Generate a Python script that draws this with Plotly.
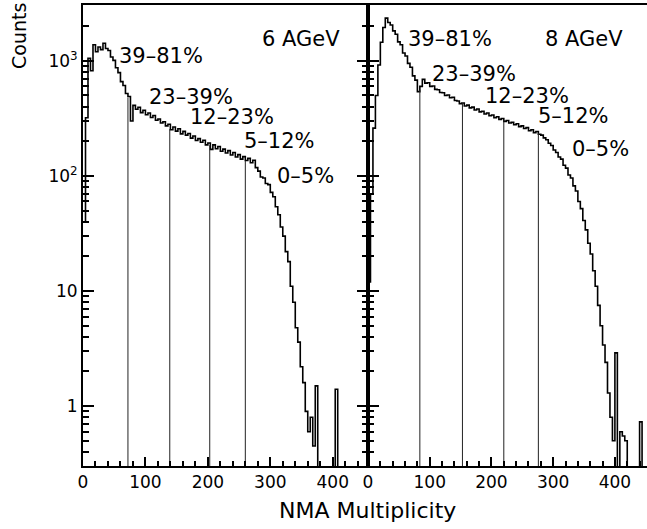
import plotly.graph_objects as go

BIN = 4
# 6 AGeV NMA multiplicity histogram (bin width 4, from 0)
counts_6 = [40, 320, 1050, 820, 1380, 1200, 1320, 1250, 1420, 1280,
            1230, 1080, 1010, 870, 790, 660, 610, 520, 490, 300,
            410, 380, 395, 355, 372, 340, 352, 322, 335, 305,
            312, 288, 296, 272, 281, 252, 266, 245, 257, 232,
            244, 226, 234, 213, 222, 203, 211, 196, 204, 186,
            193, 170, 186, 172, 180, 164, 171, 158, 166, 152,
            160, 146, 153, 140, 147, 136, 142, 130, 137, 118,
            110, 98, 96, 86, 84, 72, 66, 54, 46, 36,
            30, 22, 18, 11, 8, 4.8, 3.6, 2.2, 1.6, 0.9,
            0.6, 0.8, 0.45, 1.5, 0, 0, 0, 0, 0, 0,
            0, 1.4, 0, 0, 0, 0, 0, 0, 0, 0,
            0, 0, 0, 0]
# 8 AGeV NMA multiplicity histogram (bin width 4, from 0)
counts_8 = [12, 70, 260, 500, 920, 1450, 1950, 2350, 2150, 2050,
            1820, 1700, 1460, 1380, 1170, 1100, 950, 880, 740, 680,
            540, 600, 690, 640, 645, 600, 605, 565, 560, 530,
            528, 500, 505, 478, 482, 452, 448, 425, 430, 405,
            412, 390, 396, 374, 381, 360, 365, 345, 352, 333,
            338, 320, 327, 310, 315, 298, 303, 288, 292, 278,
            284, 268, 272, 258, 263, 247, 252, 238, 243, 230,
            226, 214, 206, 192, 184, 168, 160, 146, 140, 124,
            117, 102, 96, 82, 74, 60, 52, 41, 34, 26,
            21, 15, 11, 7.5, 5, 3.4, 2.4, 1.3, 0.8, 0.5,
            2.9, 0, 0.6, 0.55, 0.5, 0, 0, 0, 0, 0,
            0.73, 0, 0, 0]

cuts_6 = [72, 139, 203, 260]
cut_heights_6 = [480, 255, 185, 135]
cuts_8 = [84, 153, 220, 276]
cut_heights_8 = [560, 425, 305, 235]

labels = ["39–81%", "23–39%", "12–23%", "5–12%", "0–5%"]
energies = ["6 AGeV", "8 AGeV"]

FLOOR = 1e-3
FONT = "DejaVu Sans"


def step_xy(counts):
    xs = [i * BIN for i in range(len(counts))] + [len(counts) * BIN]
    ys = [c if c > 0 else FLOOR for c in counts]
    ys = ys + [ys[-1]]
    return xs, ys


fig = go.Figure()
for counts, cuts, hts, xa, ya in [(counts_6, cuts_6, cut_heights_6, "x", "y"),
                                  (counts_8, cuts_8, cut_heights_8, "x2", "y2")]:
    xs, ys = step_xy(counts)
    fig.add_trace(go.Scatter(x=xs, y=ys, mode="lines", line_shape="hv",
                             line=dict(color="black", width=1.6),
                             xaxis=xa, yaxis=ya, showlegend=False, hoverinfo="skip"))
    for c, h in zip(cuts, hts):
        fig.add_trace(go.Scatter(x=[c, c], y=[FLOOR, h], mode="lines",
                                 line=dict(color="#222", width=1),
                                 xaxis=xa, yaxis=ya, showlegend=False, hoverinfo="skip"))

ymin, ymax = -0.52, 3.485
split = 285 / 564

major_y = [1, 10, 100, 1000]
major_y_text = ["1", "10", "10<sup>2</sup>", "10<sup>3</sup>"]
minor_y = [0.4, 0.5, 0.6, 0.7, 0.8, 0.9] + [m * d for d in (1, 10, 100) for m in range(2, 10)] + [2000, 3000]
major_x = [0, 100, 200, 300, 400]
minor_x = [v for v in range(20, 460, 20) if v % 100 != 0]

xcommon = dict(tickmode="array", tickvals=major_x, ticks="inside", ticklen=9, tickwidth=1.5,
               tickcolor="black", showline=True, linewidth=2, linecolor="black", mirror=True,
               showgrid=False, zeroline=False,
               tickfont=dict(family=FONT, size=17, color="black"),
               minor=dict(tickmode="array", tickvals=minor_x, ticks="inside", ticklen=5,
                          tickwidth=1.5, tickcolor="black", showgrid=False))
ycommon = dict(type="log", range=[ymin, ymax], tickmode="array", tickvals=major_y,
               ticktext=major_y_text, ticks="inside", ticklen=11, tickwidth=1.5,
               tickcolor="black", showline=True, linewidth=2, linecolor="black",
               showgrid=False, zeroline=False,
               tickfont=dict(family=FONT, size=17, color="black"),
               minor=dict(tickmode="array", tickvals=minor_y, ticks="inside", ticklen=6,
                          tickwidth=1.5, tickcolor="black", showgrid=False))

fig.update_layout(
    width=647, height=529,
    margin=dict(l=83, r=0, t=5, b=63),
    paper_bgcolor="white", plot_bgcolor="white",
    xaxis=dict(domain=[0, split], range=[0, 456.5], anchor="y", **xcommon),
    xaxis2=dict(domain=[split, 1], range=[0, 452], anchor="y2", **xcommon),
    yaxis=dict(domain=[0, 1], anchor="x", **{**ycommon, "mirror": "allticks"}),
    yaxis2=dict(domain=[0, 1], anchor="x2", showticklabels=False, **ycommon),
    font=dict(family=FONT, color="black"),
)

ann_font = dict(family=FONT, size=21, color="black")
# label positions (multiplicity, log10 counts)
pos_6 = [(55, 3.04), (102, 2.684), (168, 2.51), (254, 2.30), (307, 1.997)]
pos_8 = [(61, 3.189), (101, 2.884), (186, 2.693), (272, 2.519), (328, 2.232)]
for (xa, ya, pos, en) in [("x", "y", pos_6, energies[0]), ("x2", "y2", pos_8, energies[1])]:
    for lab, (px, py) in zip(labels, pos):
        fig.add_annotation(x=px, y=py, xref=xa, yref=ya, text=lab, showarrow=False,
                           xanchor="left", yanchor="middle", font=ann_font)
    fig.add_annotation(x=283, y=3.189, xref=xa, yref=ya, text=en, showarrow=False,
                       xanchor="left", yanchor="middle", font=ann_font)

fig.add_annotation(x=(367 - 83) / 564, y=(466 - 510) / 461, xref="paper", yref="paper",
                   text="NMA Multiplicity", showarrow=False, xanchor="center", yanchor="middle",
                   font=dict(family=FONT, size=22, color="black"))
fig.add_annotation(x=(19 - 83) / 564, y=(466 - 36) / 461, xref="paper", yref="paper",
                   text="Counts", showarrow=False, textangle=-90, xanchor="center",
                   yanchor="middle", font=dict(family=FONT, size=19, color="black"))

fig.write_html("out.html")
